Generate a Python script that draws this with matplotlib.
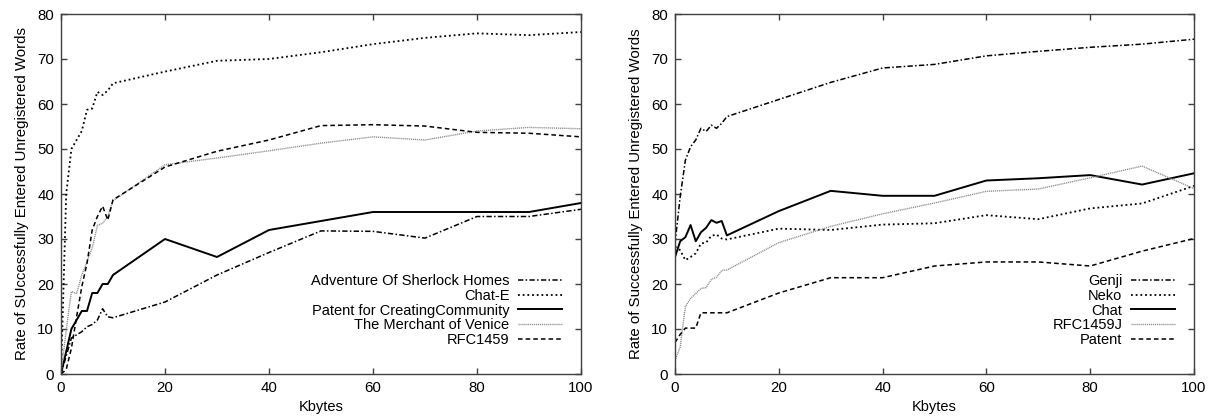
import numpy as np
import matplotlib
matplotlib.use("Agg")
import matplotlib.pyplot as plt

plt.rcParams['font.family'] = ['Liberation Sans', 'DejaVu Sans']
plt.rcParams['font.size'] = 10

kb = [0, 1, 2, 3, 4, 5, 6, 7, 8, 9, 10, 20, 30, 40, 50, 60, 70, 80, 90, 100]

# left panel (English texts)
sherlock = [0, 4, 8, 8.7, 9.4, 10.5, 11, 12, 14.5, 12.7, 12.5, 16, 22, 27, 31.8, 31.7, 30.2, 35, 35, 36.6]
chat_e = [0, 40, 50, 52, 54, 58.7, 59, 62.7, 62, 63, 64.6, 67.2, 69.6, 70, 71.5, 73.3, 74.7, 75.7, 75.3, 76]
patent_cc = [0, 5, 10, 12, 14, 14, 18, 18, 20, 20, 22, 30, 26, 32, 34, 36, 36, 36, 36, 38]
merchant = [0, 9.8, 18.3, 17.9, 22, 25, 28, 33, 33.5, 35, 38.5, 46.5, 48, 49.6, 51.3, 52.7, 52, 54, 54.8, 54.5]
rfc1459 = [0, 1, 5.7, 12.7, 19.4, 24.6, 32, 35, 37.3, 34.2, 38.7, 46, 49.5, 52, 55.2, 55.4, 55.1, 53.7, 53.5, 52.7]

# right panel (Japanese texts)
genji = [29, 39.4, 47.5, 50.5, 52, 54.6, 53.9, 55.3, 54.6, 55.7, 57.2, 61, 64.8, 68, 68.8, 70.7, 71.7, 72.6, 73.3, 74.4]
neko = [28.3, 27.5, 25.3, 26, 26.8, 29, 29.2, 30.7, 31, 30.1, 29.9, 32.3, 32, 33.2, 33.5, 35.3, 34.4, 36.8, 37.9, 41.8]
chat = [26, 29.5, 30.4, 33.1, 29.5, 31.5, 32.5, 34.2, 33.6, 34, 30.8, 36.2, 40.7, 39.6, 39.6, 43, 43.5, 44.2, 42.1, 44.6]
rfc1459j = [3, 6, 15, 16.8, 17.9, 19, 19.2, 21, 21.5, 23, 23.1, 29.2, 32.8, 35.6, 38, 40.6, 41.1, 43.6, 46.2, 41.2]
patent = [7, 8.8, 10.2, 10.2, 10.2, 13.6, 13.6, 13.6, 13.6, 13.6, 13.6, 18, 21.4, 21.4, 24, 24.9, 24.9, 24, 27.3, 30.1]

left_labels = ['Adventure Of Sherlock Homes', 'Chat-E', 'Patent for CreatingCommunity',
               'The Merchant of Venice', 'RFC1459']
right_labels = ['Genji', 'Neko', 'Chat', 'RFC1459J', 'Patent']

dashdot = dict(color='black', lw=1.1, linestyle=(0, (3.5, 1.5, 1, 1.5)))
dotted = dict(color='black', lw=1.3, linestyle=(0, (1, 1.6)))
solid = dict(color='black', lw=1.4, linestyle='-')
grey = dict(color='#8a8a8a', lw=1.0, linestyle=(0, (0.8, 0.6)))
dashed = dict(color='black', lw=1.1, linestyle=(0, (3, 2)))
styles = [dashdot, dotted, solid, grey, dashed]

fig = plt.figure(figsize=(12.08, 4.18), dpi=100)
ax1 = fig.add_axes([61 / 1208, 1 - 374 / 418, 520 / 1208, 360 / 418])
ax2 = fig.add_axes([675 / 1208, 1 - 374 / 418, 519 / 1208, 360 / 418])

for ax, series, labels, ylab in [
        (ax1, [sherlock, chat_e, patent_cc, merchant, rfc1459], left_labels,
         'Rate of SUccessfully Entered Unregistered Words'),
        (ax2, [genji, neko, chat, rfc1459j, patent], right_labels,
         'Rate of Successfully Entered Unregistered Words')]:
    for ys, lab, st in zip(series, labels, styles):
        ax.plot(kb, ys, label=lab, **st)
    ax.set_xlim(0, 100)
    ax.set_ylim(0, 80)
    ax.set_xticks(range(0, 101, 20))
    ax.set_yticks(range(0, 81, 10))
    ax.tick_params(direction='in', top=True, right=True, length=4, width=1,
                   color='#404040', labelsize=10.8, pad=5)
    for sp in ax.spines.values():
        sp.set_color('#404040')
        sp.set_linewidth(1.0)
    ax.set_xlabel('Kbytes', fontsize=10.5, labelpad=4)
    ax.set_ylabel(ylab, fontsize=10.8, labelpad=6)
    ax.legend(loc='lower right', bbox_to_anchor=(0.963, 0.075), frameon=False,
              markerfirst=False, fontsize=10.5, handlelength=3.0, handletextpad=0.6,
              labelspacing=0.05, borderpad=0, borderaxespad=0)

fig.savefig('out.png', dpi=100)
